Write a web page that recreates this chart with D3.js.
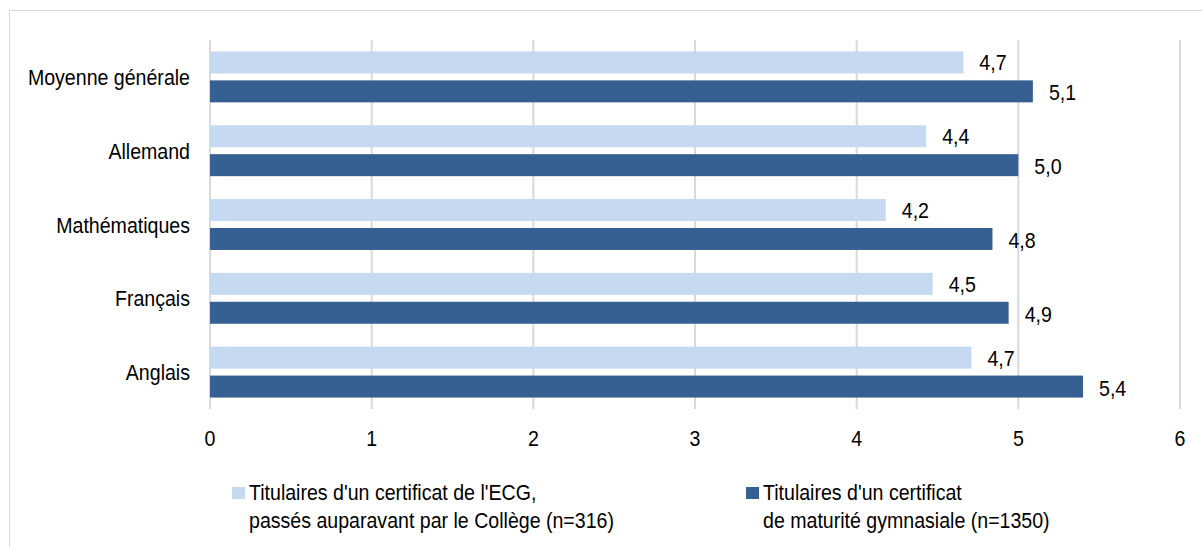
<!DOCTYPE html>
<html>
<head>
<meta charset="utf-8">
<script src="https://cdn.jsdelivr.net/npm/d3@7"></script>
<style>
  body { margin: 0; background: #fff; }
  text { font-family: "Liberation Sans", Arial, sans-serif; fill: #000; }
</style>
</head>
<body>
<div id="chart"></div>
<script>
// chart data
const categories = ['Moyenne générale', 'Allemand', 'Mathématiques', 'Français', 'Anglais']
const seriesNames = [
  ["Titulaires d'un certificat de l'ECG,", "passés auparavant par le Collège (n=316)"],
  ["Titulaires d'un certificat", "de maturité gymnasiale (n=1350)"]
]
const ecgValues = [4.66, 4.43, 4.18, 4.47, 4.71]
const maturiteValues = [5.09, 5.0, 4.84, 4.94, 5.4]
const xTicks = [0, 1, 2, 3, 4, 5, 6]
const colors = ['#c6d9f0', '#376092']

const W = 1202, H = 547
const margin = {top: 40, left: 210, right: 22, bottom: 138}
const fontSize = 22
const squish = 0.89

const svg = d3.select('#chart').append('svg')
  .attr('width', W).attr('height', H)

// outer frame
svg.append('rect')
  .attr('x', 9.5).attr('y', 10.5)
  .attr('width', 1300).attr('height', 700)
  .attr('fill', '#fff').attr('stroke', '#d9d9d9').attr('stroke-width', 1)

const x = d3.scaleLinear().domain([0, 6]).range([margin.left, W - margin.right])
const y = d3.scaleBand().domain(categories)
  .range([margin.top, H - margin.bottom])
  .paddingInner(0.31).paddingOuter(0.155)
const ySub = d3.scaleBand().domain([0, 1]).range([0, y.bandwidth()]).paddingInner(0.24)

// helper: text narrowed a bit, like the original
function label(g, tx, ty, str, anchor) {
  return g.append('text')
    .attr('transform', `translate(${tx},${ty}) scale(${squish},1)`)
    .attr('text-anchor', anchor)
    .style('font-size', fontSize + 'px')
    .text(str)
}

// grid lines
svg.append('g').selectAll('line')
  .data(xTicks).enter().append('line')
  .attr('x1', d => x(d)).attr('x2', d => x(d))
  .attr('y1', margin.top).attr('y2', H - margin.bottom)
  .attr('stroke', '#d9d9d9').attr('stroke-width', 2)

// bars
const rows = categories.map((c, i) => ({cat: c, vals: [ecgValues[i], maturiteValues[i]]}))
const rowG = svg.append('g').selectAll('g')
  .data(rows).enter().append('g')
  .attr('transform', d => `translate(0,${y(d.cat)})`)

rowG.selectAll('rect')
  .data(d => d.vals.map((v, j) => ({v, j})))
  .enter().append('rect')
  .attr('x', x(0))
  .attr('y', d => ySub(d.j))
  .attr('width', d => x(d.v) - x(0))
  .attr('height', ySub.bandwidth())
  .attr('fill', d => colors[d.j])

// value labels
rowG.each(function(d) {
  const g = d3.select(this)
  d.vals.forEach((v, j) => {
    label(g, x(v) + 16, ySub(j) + ySub.bandwidth() / 2 + 8 + j, d3.format('.1f')(v).replace('.', ','), 'start')
  })
})

// category labels
categories.forEach(c => {
  label(svg, 190, y(c) + y.bandwidth() / 2 + 8, c, 'end')
})

// x tick labels
xTicks.forEach(t => {
  label(svg, x(t), 446, t, 'middle')
})

// legend
const legendX = [232, 746]
seriesNames.forEach((lines, i) => {
  const g = svg.append('g')
  g.append('rect')
    .attr('x', legendX[i]).attr('y', 487)
    .attr('width', 13).attr('height', 12)
    .attr('fill', colors[i])
  lines.forEach((ln, k) => {
    label(g, legendX[i] + 17, 500 + k * 28, ln, 'start')
  })
})
</script>
</body>
</html>
